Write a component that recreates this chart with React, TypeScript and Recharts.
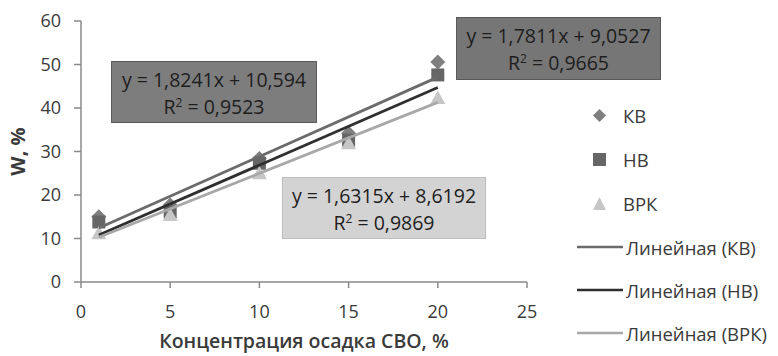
import React from "react";
import { ScatterChart, Scatter, XAxis, YAxis, Label } from "recharts";

const xValues = [1, 5, 10, 15, 20];
const kvValues = [15, 17.7, 28.4, 34.2, 50.6];
const nvValues = [13.8, 16.1, 27.3, 32.6, 47.6];
const vrkValues = [11.2, 15.4, 25, 31.9, 42.3];

// trend line end points (x = 1 and x = 20)
const trendX = [1, 20];
const kvTrend = [12.4, 47.1];
const nvTrend = [10.8, 44.7];
const vrkTrend = [10.3, 41.3];

const xTicks = [0, 5, 10, 15, 20, 25];
const yTicks = [0, 10, 20, 30, 40, 50, 60];

const toPoints = (xs: number[], ys: number[]) => xs.map((x, i) => ({ x, y: ys[i] }));

const FONT = "'Open Sans', sans-serif";
const TEXT = "#3a3a3a";

const KV_COLOR = "#7f7f7f";
const NV_COLOR = "#666666";
const VRK_COLOR = "#c6c6c6";

const Diamond = (p: any) => (
  <polygon
    points={`${p.cx},${p.cy - 7.5} ${p.cx + 7.5},${p.cy} ${p.cx},${p.cy + 7.5} ${p.cx - 7.5},${p.cy}`}
    fill={KV_COLOR}
  />
);
const Square = (p: any) => <rect x={p.cx - 6.5} y={p.cy - 6.5} width={13} height={13} fill={NV_COLOR} />;
const Triangle = (p: any) => (
  <polygon
    points={`${p.cx},${p.cy - 7.5} ${p.cx + 7.5},${p.cy + 6} ${p.cx - 7.5},${p.cy + 6}`}
    fill={VRK_COLOR}
  />
);

const boxStyle = (bg: string): React.CSSProperties => ({
  position: "absolute",
  background: bg,
  border: "1.5px solid #5a5a5a",
  boxSizing: "border-box",
  fontFamily: FONT,
  fontSize: 19.5,
  color: "#1e1e1e",
  textAlign: "center",
  lineHeight: "27px",
  paddingTop: 4,
  whiteSpace: "nowrap",
});

const legendRows = [
  { label: "КВ", kind: "diamond", color: KV_COLOR },
  { label: "НВ", kind: "square", color: NV_COLOR },
  { label: "ВРК", kind: "triangle", color: VRK_COLOR },
  { label: "Линейная (КВ)", kind: "line", color: "#6b6b6b" },
  { label: "Линейная (НВ)", kind: "line", color: "#2f2f2f" },
  { label: "Линейная (ВРК)", kind: "line", color: "#a8a8a8" },
];
const legendTops = [115, 159, 203, 247, 290, 333];

function LegendIcon({ kind, color }: { kind: string; color: string }) {
  if (kind === "line") {
    return (
      <svg width={46} height={10}>
        <line x1={0} y1={5} x2={46} y2={5} stroke={color} strokeWidth={2.5} />
      </svg>
    );
  }
  return (
    <svg width={13} height={13}>
      {kind === "diamond" && <polygon points="6.5,0 13,6.5 6.5,13 0,6.5" fill={color} />}
      {kind === "square" && <rect x={0} y={0} width={13} height={13} fill={color} />}
      {kind === "triangle" && <polygon points="6.5,0 13,13 0,13" fill={color} />}
    </svg>
  );
}

export default function App() {
  return (
    <div style={{ position: "absolute", left: 0, top: 0, width: 778, height: 356, background: "#fff" }}>
      <ScatterChart width={778} height={356} margin={{ top: 21, right: 251, bottom: 0, left: 0 }}>
        <XAxis
          type="number"
          dataKey="x"
          domain={[0, 25]}
          ticks={xTicks}
          height={74}
          tickSize={6}
          tickMargin={17}
          stroke="#8a8a8a"
          strokeWidth={1.5}
          tick={{ fontSize: 18, fill: TEXT, fontFamily: FONT }}
        >
          <Label
            value="Концентрация  осадка СВО, %"
            position="insideBottom"
            offset={8}
            style={{ fontSize: 19.5, fontWeight: 600, fill: TEXT, fontFamily: FONT }}
          />
        </XAxis>
        <YAxis
          type="number"
          dataKey="y"
          domain={[0, 60]}
          ticks={yTicks}
          width={81}
          tickSize={7}
          tickMargin={13}
          stroke="#8a8a8a"
          strokeWidth={1.5}
          tick={{ fontSize: 18, fill: TEXT, fontFamily: FONT }}
        >
          <Label
            value="W, %"
            angle={-90}
            position="insideLeft"
            offset={18}
            style={{ fontSize: 20, fontWeight: 700, fill: TEXT, fontFamily: FONT, textAnchor: "middle" }}
          />
        </YAxis>
        <Scatter data={toPoints(xValues, kvValues)} shape={Diamond} isAnimationActive={false} />
        <Scatter data={toPoints(xValues, nvValues)} shape={Square} isAnimationActive={false} />
        <Scatter data={toPoints(xValues, vrkValues)} shape={Triangle} isAnimationActive={false} />
        <Scatter data={toPoints(trendX, kvTrend)} line={{ stroke: "#6b6b6b", strokeWidth: 2.8 }} shape={() => null} isAnimationActive={false} />
        <Scatter data={toPoints(trendX, nvTrend)} line={{ stroke: "#2f2f2f", strokeWidth: 2.8 }} shape={() => null} isAnimationActive={false} />
        <Scatter data={toPoints(trendX, vrkTrend)} line={{ stroke: "#a8a8a8", strokeWidth: 2.8 }} shape={() => null} isAnimationActive={false} />
      </ScatterChart>

      <div style={{ ...boxStyle("#7d7d7d"), left: 111, top: 61, width: 206, height: 62 }}>
        <div>y = 1,8241x + 10,594</div>
        <div>R<sup style={{ fontSize: 12, lineHeight: 0 }}>2</sup> = 0,9523</div>
      </div>
      <div style={{ ...boxStyle("#767676"), left: 456, top: 17, width: 205, height: 63 }}>
        <div>y = 1,7811x + 9,0527</div>
        <div>R<sup style={{ fontSize: 12, lineHeight: 0 }}>2</sup> = 0,9665</div>
      </div>
      <div style={{ ...boxStyle("#d3d3d3"), border: "1.5px solid #bdbdbd", left: 282, top: 177, width: 204, height: 62 }}>
        <div>y = 1,6315x + 8,6192</div>
        <div>R<sup style={{ fontSize: 12, lineHeight: 0 }}>2</sup> = 0,9869</div>
      </div>

      <div style={{ position: "absolute", left: 0, top: 0 }}>
        {legendRows.map((r, i) => {
          const isLine = r.kind === "line";
          return (
            <div
              key={r.label}
              style={{
                position: "absolute",
                top: legendTops[i] - 12,
                left: isLine ? 577 : 593,
                height: 24,
                display: "flex",
                alignItems: "center",
                gap: isLine ? 3 : 17,
                whiteSpace: "nowrap",
                fontFamily: FONT,
                fontSize: 18.5,
                color: TEXT,
              }}
            >
              <LegendIcon kind={r.kind} color={r.color} />
              <span>{r.label}</span>
            </div>
          );
        })}
      </div>
    </div>
  );
}
